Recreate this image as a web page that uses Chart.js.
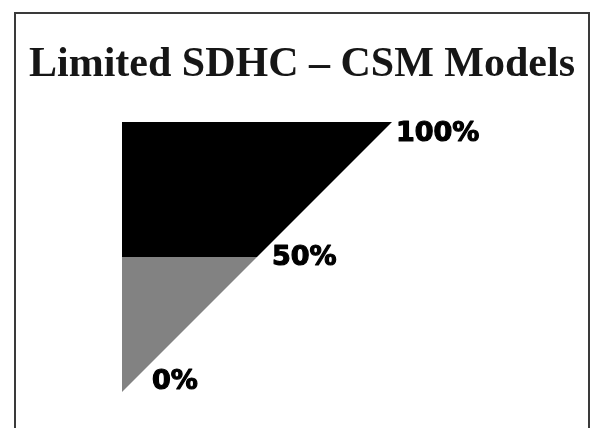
<!DOCTYPE html>
<html>
<head>
<meta charset="utf-8">
<script src="https://cdn.jsdelivr.net/npm/chart.js@4"></script>
<style>
  html, body { margin: 0; padding: 0; background: #ffffff; }
  #wrap { width: 591px; height: 428px; position: relative; }
</style>
</head>
<body>
<div id="wrap"><canvas id="c" width="591" height="428"></canvas></div>
<script>
// ---- data ----
const titleText = 'Limited SDHC \u2013 CSM Models';
const xLevels = [0, 50, 100];            // x positions of the boundary points
const diagonal = [0, 50, 100];           // diagonal line (0% -> 100%)
const upperBoundary = [50, 50, 100];     // lower edge of the black region
const midLevel = [50, 50];               // top edge of the grey region (x 0..50)
const tickLabels = ['0%', '50%', '100%'];

const toPts = (ys) => ys.map((y, i) => ({ x: xLevels[i], y: y }));

const overlay = {
  id: 'overlay',
  beforeDraw(chart) {
    const ctx = chart.ctx;
    ctx.save();
    ctx.fillStyle = '#ffffff';
    ctx.fillRect(0, 0, chart.width, chart.height);
    ctx.strokeStyle = '#3a3a3a';
    ctx.lineWidth = 2;
    ctx.strokeRect(15, 13, 574, 430);
    ctx.fillStyle = '#161616';
    ctx.font = 'bold 42px "Liberation Serif", "Times New Roman", serif';
    ctx.textAlign = 'center';
    ctx.textBaseline = 'alphabetic';
    ctx.fillText(titleText, 302, 76);
    ctx.restore();
  },
  afterDatasetsDraw(chart) {
    const ctx = chart.ctx;
    const xs = chart.scales.x, ys = chart.scales.y;
    const offs = [[30, -10], [15, 1], [4, 12]];
    ctx.save();
    ctx.fillStyle = '#000000';
    ctx.strokeStyle = '#000000';
    ctx.lineWidth = 1.2;
    ctx.lineJoin = 'round';
    ctx.font = 'bold 27px "DejaVu Sans", sans-serif';
    ctx.textAlign = 'left';
    ctx.textBaseline = 'middle';
    tickLabels.forEach((t, i) => {
      const px = xs.getPixelForValue(xLevels[i]) + offs[i][0];
      const py = ys.getPixelForValue(diagonal[i]) + offs[i][1];
      ctx.fillText(t, px, py);
      ctx.strokeText(t, px, py);
    });
    ctx.restore();
  }
};

new Chart(document.getElementById('c'), {
  type: 'line',
  data: {
    datasets: [
      { label: 'diagonal', data: toPts(diagonal), borderWidth: 0, pointRadius: 0, fill: false, borderColor: 'rgba(0,0,0,0)' },
      { label: 'upper', data: toPts(upperBoundary), borderWidth: 0, pointRadius: 0, fill: 'end', backgroundColor: '#000000', borderColor: 'rgba(0,0,0,0)' },
      { label: 'lower', data: toPts(midLevel), borderWidth: 0, pointRadius: 0, fill: 0, backgroundColor: '#828282', borderColor: 'rgba(0,0,0,0)' }
    ]
  },
  options: {
    responsive: false,
    devicePixelRatio: 1,
    animation: false,
    layout: { padding: { left: 122, top: 122, right: 199, bottom: 36 } },
    scales: {
      x: { type: 'linear', min: 0, max: 100, display: false },
      y: { type: 'linear', min: 0, max: 100, display: false }
    },
    plugins: { legend: { display: false }, tooltip: { enabled: false }, title: { display: false } }
  },
  plugins: [overlay]
});
</script>
</body>
</html>
